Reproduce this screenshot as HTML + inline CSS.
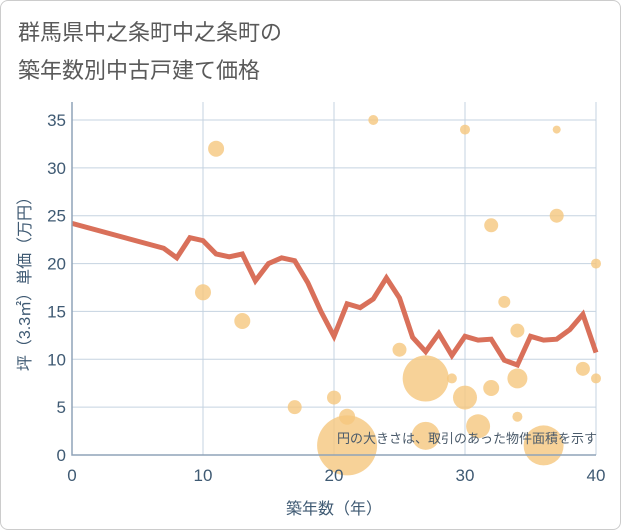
<!DOCTYPE html>
<html><head><meta charset="utf-8"><style>
body{margin:0;background:#fff;font-family:"Liberation Sans","Noto Sans CJK JP",sans-serif}
#wrap{position:relative;width:619px;height:528px;border:1px solid #ccc;border-radius:8px;background:#fff}
</style></head><body>
<div id="wrap">
<svg id="chart" width="621" height="530" style="position:absolute;left:-1px;top:-1px">
<text x="18" y="40" font-size="22" fill="#5a5a5a" font-family="Liberation Sans,Noto Sans CJK JP,sans-serif">群馬県中之条町中之条町の</text>
<text x="18" y="78" font-size="22" fill="#5a5a5a" font-family="Liberation Sans,Noto Sans CJK JP,sans-serif">築年数別中古戸建て価格</text>
<g id="grid"></g><g id="bubbles"></g><g id="line"></g><g id="axes"></g>
<text x="597" y="443" font-size="13" fill="#4a5a6a" text-anchor="end" font-family="Liberation Sans,Noto Sans CJK JP,sans-serif">円の大きさは、取引のあった物件面積を示す</text>
<text x="334" y="514" font-size="16" fill="#3f5a73" text-anchor="middle" font-family="Liberation Sans,Noto Sans CJK JP,sans-serif">築年数（年）</text>
<text transform="translate(30,280) rotate(-90)" font-size="16" fill="#3f5a73" text-anchor="middle" font-family="Liberation Sans,Noto Sans CJK JP,sans-serif">坪（3.3㎡）単価（万円）</text>
</svg></div>
<script>
const lineYears=[0,7,8,9,10,11,12,13,14,15,16,17,18,19,20,21,22,23,24,25,26,27,28,29,30,31,32,33,34,35,36,37,38,39,40];
const linePrices=[24.2,21.6,20.6,22.7,22.4,21,20.7,21,18.2,20,20.6,20.3,18,15,12.4,15.8,15.4,16.3,18.5,16.4,12.3,10.8,12.7,10.4,12.4,12,12.1,9.9,9.4,12.4,12,12.1,13.1,14.7,10.7];
const bubbleYears=[10,11,13,17,20,21,21,23,25,27,27,29,30,30,31,32,32,33,34,34,34,36,37,37,39,40,40];
const bubblePrices=[17,32,14,5,6,4,1,35,11,8,2,8,34,6,3,7,24,16,13,8,4,1,34,25,9,20,8];
const bubbleAreas=[64,64,64,49,49,64,900,25,49,530,196,25,25,144,144,64,49,36,49,100,25,400,16,49,49,25,25];
const xTicks=[0,10,20,30,40];
const yTicks=[0,5,10,15,20,25,30,35];
const NS="http://www.w3.org/2000/svg";
const X0=72,X1=596,Y0=455,YT=102;
const xs=v=>X0+(v/40)*(X1-X0);
const ys=v=>Y0-v*(335/35);
function mk(t,a,p){const e=document.createElementNS(NS,t);for(const k in a)e.setAttribute(k,a[k]);p.appendChild(e);return e;}
const grid=document.getElementById('grid'),axes=document.getElementById('axes');
xTicks.forEach(t=>{
 const l=mk('line',{x1:xs(t),x2:xs(t),y1:YT,y2:Y0,stroke:'#c5d3e0','stroke-width':1},grid);
 
 
 const tx=mk('text',{x:xs(t),y:481,'font-size':17,fill:'#3f5a73','text-anchor':'middle'},axes);
 tx.textContent=t;
 
 
});
yTicks.forEach(t=>{
 const l=mk('line',{x1:X0,x2:X1,y1:ys(t),y2:ys(t),stroke:'#c5d3e0','stroke-width':1},grid);
 
 
 const tx=mk('text',{x:66,y:ys(t)+6,'font-size':17,fill:'#3f5a73','text-anchor':'end'},axes);
 tx.textContent=t;
 
 
});
const ax=mk('path',{d:`M${X0} ${YT}V${Y0}H${X1}`,stroke:'#8fa3b8','stroke-width':1.5,fill:'none'},axes);


const bg=document.getElementById('bubbles');
bubbleYears.forEach((y,i)=>{
 const c=mk('circle',{cx:xs(y),cy:ys(bubblePrices[i]),r:Math.sqrt(bubbleAreas[i]),fill:'#f5c77e','fill-opacity':0.8},bg);
 
 
});
const d=lineYears.map((y,i)=>(i?'L':'M')+xs(y)+' '+ys(linePrices[i])).join('');
const p=mk('path',{d:d,stroke:'#d9705a','stroke-width':5,fill:'none','stroke-linejoin':'miter'},document.getElementById('line'));


</script>
</body></html>
